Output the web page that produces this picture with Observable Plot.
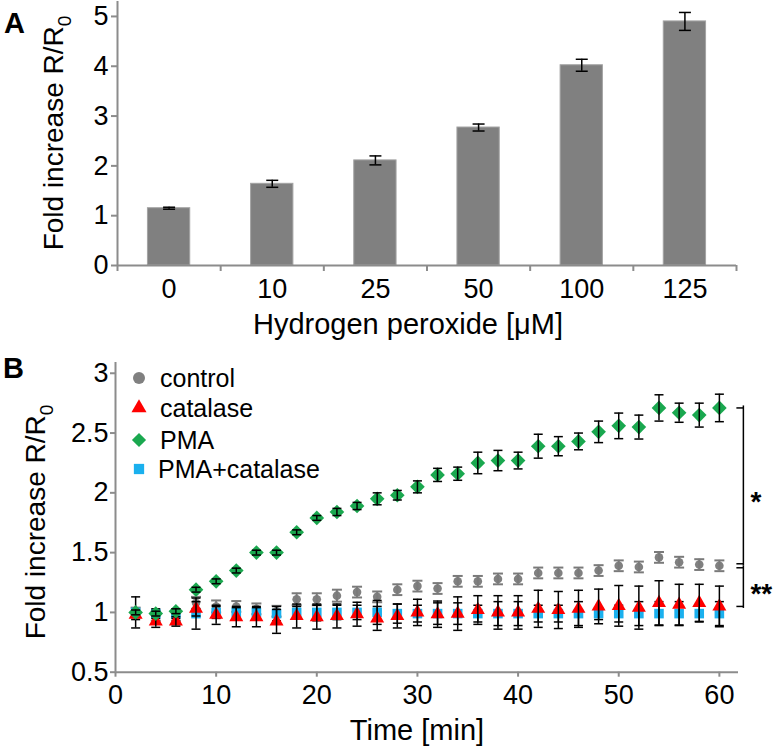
<!DOCTYPE html>
<html>
<head>
<meta charset="utf-8">
<script src="https://cdn.jsdelivr.net/npm/d3@7"></script>
<script src="https://cdn.jsdelivr.net/npm/@observablehq/plot@0.6"></script>
<style>
  html, body { margin: 0; padding: 0; background: white; }
  #chart svg { display: block; }
</style>
</head>
<body>
<div id="chart"></div>
<script>
// ---------- Panel A data ----------
const concentrations = ["0", "10", "25", "50", "100", "125"];
const foldIncrease = [1.15, 1.64, 2.11, 2.77, 4.02, 4.90];
const foldError = [0.02, 0.07, 0.09, 0.07, 0.12, 0.18];
const yTicksA = [0, 1, 2, 3, 4, 5];

// ---------- Panel B data ----------
const timeMin = [2, 4, 6, 8, 10, 12, 14, 16, 18, 20, 22, 24, 26, 28, 30, 32, 34, 36, 38, 40, 42, 44, 46, 48, 50, 52, 54, 56, 58, 60];
const control = [1.00, 0.97, 0.97, 1.08, 1.05, 1.05, 1.03, 1.01, 1.11, 1.11, 1.14, 1.17, 1.13, 1.19, 1.22, 1.20, 1.26, 1.26, 1.28, 1.28, 1.33, 1.33, 1.33, 1.35, 1.39, 1.38, 1.46, 1.42, 1.40, 1.39];
const controlErr = [0.04, 0.04, 0.04, 0.05, 0.05, 0.045, 0.045, 0.045, 0.05, 0.05, 0.05, 0.045, 0.045, 0.045, 0.045, 0.045, 0.045, 0.045, 0.045, 0.045, 0.045, 0.045, 0.045, 0.045, 0.045, 0.045, 0.045, 0.045, 0.045, 0.045];
const catalase = [0.98, 0.925, 0.925, 1.03, 0.98, 0.96, 0.96, 0.925, 0.97, 0.96, 0.97, 0.985, 0.95, 0.97, 1.00, 0.985, 0.99, 1.02, 1.00, 1.00, 1.03, 1.02, 1.03, 1.05, 1.055, 1.04, 1.08, 1.065, 1.08, 1.05];
const catalaseErr = [0.04, 0.05, 0.04, 0.06, 0.08, 0.08, 0.08, 0.10, 0.10, 0.10, 0.10, 0.10, 0.10, 0.10, 0.11, 0.11, 0.14, 0.12, 0.14, 0.14, 0.155, 0.155, 0.155, 0.145, 0.17, 0.18, 0.185, 0.17, 0.155, 0.17];
const pma = [1.00, 0.99, 1.01, 1.19, 1.26, 1.35, 1.50, 1.50, 1.67, 1.79, 1.84, 1.89, 1.95, 1.98, 2.05, 2.15, 2.16, 2.25, 2.27, 2.27, 2.39, 2.39, 2.43, 2.51, 2.56, 2.55, 2.71, 2.67, 2.65, 2.71];
const pmaErr = [0.02, 0.02, 0.02, 0.02, 0.02, 0.02, 0.02, 0.02, 0.02, 0.02, 0.03, 0.03, 0.05, 0.04, 0.05, 0.055, 0.055, 0.09, 0.085, 0.07, 0.10, 0.08, 0.07, 0.09, 0.107, 0.10, 0.11, 0.08, 0.10, 0.115];
const pmaCatalase = [1.00, 0.99, 0.99, 0.99, 1.00, 1.00, 1.00, 0.99, 1.00, 1.00, 1.00, 1.00, 1.00, 0.99, 0.99, 0.99, 0.99, 0.99, 0.99, 0.99, 0.99, 0.99, 0.99, 0.99, 0.99, 0.99, 0.99, 0.99, 0.99, 0.99];
const pmaCatalaseErr = [0.13, 0.04, 0.04, 0.13, 0.05, 0.05, 0.05, 0.06, 0.05, 0.07, 0.06, 0.06, 0.10, 0.08, 0.07, 0.09, 0.09, 0.07, 0.10, 0.10, 0.07, 0.07, 0.10, 0.05, 0.07, 0.10, 0.10, 0.10, 0.07, 0.10];
const seriesNames = ["control", "catalase", "PMA", "PMA+catalase"];
const xTicksB = [0, 10, 20, 30, 40, 50, 60];
const yTicksB = [0.5, 1, 1.5, 2, 2.5, 3];
const significance = ["*", "**"];

// ---------- styles ----------
const FONT = "'Liberation Sans', Arial, Helvetica, sans-serif";
const AXIS = "#8c8c8c";
const colors = {control: "#808080", catalase: "#ff0000", PMA: "#1aa84f", "PMA+catalase": "#1ab0ee"};
const symbols = {control: "circle", catalase: "triangle", PMA: "diamond2", "PMA+catalase": "square"};
const radii = {control: 4.3, catalase: 5.2, PMA: 6.6, "PMA+catalase": 5.4};

const capSymbol = {draw(ctx, size) { const w = Math.sqrt(size / Math.PI); ctx.moveTo(-w, 0); ctx.lineTo(w, 0); }};
const hookSymbol = {draw(ctx, size) { const w = Math.sqrt(size / Math.PI); ctx.moveTo(-w, 0); ctx.lineTo(0, 0); }};

function errorMarks(data, opts = {}) {
  const stroke = opts.stroke || "black";
  const r = opts.r || 5;
  const w = opts.strokeWidth || 1.5;
  return [
    Plot.ruleX(data, {x: "x", y1: d => d.v - d.e, y2: d => d.v + d.e, stroke, strokeWidth: w}),
    Plot.dot(data, {x: "x", y: d => d.v + d.e, symbol: capSymbol, r, fill: "none", stroke, strokeWidth: w}),
    Plot.dot(data, {x: "x", y: d => d.v - d.e, symbol: capSymbol, r, fill: "none", stroke, strokeWidth: w})
  ];
}

function yLabel(svg, x, y, size) {
  const t = d3.select(svg).append("text")
    .attr("transform", `translate(${x},${y}) rotate(-90)`)
    .attr("text-anchor", "middle")
    .attr("font-family", FONT)
    .attr("font-size", size)
    .attr("fill", "black");
  t.append("tspan").text("Fold increase R/R");
  t.append("tspan").attr("font-size", size * 0.68).attr("dy", 8).text("0");
}

function panelLetter(svg, letter, x, y) {
  d3.select(svg).append("text").attr("x", x).attr("y", y)
    .attr("text-anchor", "start")
    .attr("font-family", FONT).attr("font-size", 29).attr("font-weight", "bold")
    .attr("fill", "black").text(letter);
}

// ---------- Panel A ----------
const dataA = concentrations.map((c, i) => ({i, c, x: i + 0.5, v: foldIncrease[i], e: foldError[i]}));
const nA = concentrations.length;
const yMaxA = 5.3;

const plotA = Plot.plot({
  width: 775, height: 350,
  marginLeft: 117, marginRight: 39, marginTop: 1, marginBottom: 85,
  style: {fontFamily: FONT, color: "black", background: "white", overflow: "visible"},
  x: {domain: [0, nA]},
  y: {domain: [0, yMaxA]},
  marks: [
    Plot.rectY(dataA, {x1: d => d.x - 0.205, x2: d => d.x + 0.205, y1: 0, y2: "v", fill: "#808080", stroke: "#a3a3a3", strokeWidth: 1}),
    ...errorMarks(dataA, {r: 6}),
    Plot.ruleY([0], {stroke: AXIS, strokeWidth: 2}),
    Plot.ruleX([0], {y1: 0, y2: yMaxA, stroke: AXIS, strokeWidth: 2}),
    Plot.axisY({ticks: yTicksA, tickSize: 6, tickPadding: 3, fontSize: 27, stroke: AXIS, strokeWidth: 2, fill: "black", tickFormat: d => String(d), label: null}),
    Plot.axisX({ticks: d3.range(nA + 1), tickSize: 6, tickFormat: () => "", stroke: AXIS, strokeWidth: 2, label: null}),
    Plot.axisX({ticks: dataA.map(d => d.x), tickSize: 0, tickPadding: 13, fontSize: 27, fill: "black", tickFormat: d => concentrations[Math.floor(d)], label: null}),
    Plot.text(["Hydrogen peroxide [\u03bcM]"], {frameAnchor: "bottom", lineAnchor: "bottom", dy: 68, dx: -19, fontSize: 29, fill: "black", text: d => d})
  ]
});
yLabel(plotA, 63, 133, 28);
panelLetter(plotA, "A", 4, 33);

// ---------- Panel B ----------
const seriesValues = [control, catalase, pma, pmaCatalase];
const seriesErrors = [controlErr, catalaseErr, pmaErr, pmaCatalaseErr];
const seriesData = {};
seriesNames.forEach((name, k) => {
  seriesData[name] = timeMin.map((t, i) => ({x: t, v: seriesValues[k][i], e: seriesErrors[k][i], series: name}));
});

const last = timeMin.length - 1;
const lastT = timeMin[last];
const brackets = [
  {label: significance[0], y1: control[last], y2: pma[last]},
  {label: significance[1], y1: catalase[last], y2: control[last]}
];
const xMaxB = 61.9;
const yMinB = 0.5, yMaxB = 3.09;

function seriesMarks(name, errStroke, errOpts = {}) {
  const data = seriesData[name];
  return [
    Plot.dot(data, {x: "x", y: "v", symbol: symbols[name], r: radii[name], fill: colors[name], stroke: "none"}),
    ...errorMarks(data, {stroke: errStroke, r: 4.5, ...errOpts})
  ];
}

const plotB = Plot.plot({
  width: 775, height: 401,
  marginLeft: 115, marginRight: 37, marginTop: 12, marginBottom: 79.3,
  style: {fontFamily: FONT, color: "black", background: "white", overflow: "visible"},
  x: {domain: [0, xMaxB]},
  y: {domain: [yMinB, yMaxB]},
  marks: [
    ...seriesMarks("control", "#7a7a7a", {r: 5, strokeWidth: 2}),
    ...seriesMarks("PMA+catalase", "black"),
    ...seriesMarks("catalase", "black"),
    ...seriesMarks("PMA", "black"),
    // significance brackets
    Plot.ruleX([brackets[0]], {x: lastT, y1: "y1", y2: "y2", dx: 24, insetBottom: 2, stroke: "black", strokeWidth: 1.5}),
    Plot.ruleX([brackets[1]], {x: lastT, y1: "y1", y2: "y2", dx: 24, insetTop: 2, stroke: "black", strokeWidth: 1.5}),
    Plot.dot([brackets[0]], {x: lastT, y: "y2", dx: 24, symbol: hookSymbol, r: 7, fill: "none", stroke: "black", strokeWidth: 1.5}),
    Plot.dot([brackets[0]], {x: lastT, y: "y1", dx: 24, dy: -2, symbol: hookSymbol, r: 7, fill: "none", stroke: "black", strokeWidth: 1.5}),
    Plot.dot([brackets[1]], {x: lastT, y: "y2", dx: 24, dy: 2, symbol: hookSymbol, r: 7, fill: "none", stroke: "black", strokeWidth: 1.5}),
    Plot.dot([brackets[1]], {x: lastT, y: "y1", dx: 24, symbol: hookSymbol, r: 7, fill: "none", stroke: "black", strokeWidth: 1.5}),
    Plot.text([brackets[0]], {x: lastT, y: d => (d.y1 + d.y2) / 2, text: "label", dx: 31, dy: 15, textAnchor: "start", fontSize: 28, fontWeight: "bold", fill: "black"}),
    Plot.text([brackets[1]], {x: lastT, y: d => (d.y1 + d.y2) / 2, text: "label", dx: 31, dy: 8, textAnchor: "start", fontSize: 28, fontWeight: "bold", fill: "black"}),
    // axes
    Plot.ruleY([yMinB], {x1: 0, x2: xMaxB, stroke: AXIS, strokeWidth: 2}),
    Plot.ruleX([0], {y1: yMinB, y2: yMaxB, stroke: AXIS, strokeWidth: 2}),
    Plot.axisY({ticks: yTicksB, tickSize: 5, tickPadding: 2, fontSize: 27, stroke: AXIS, strokeWidth: 2, fill: "black", tickFormat: d => String(d), label: null}),
    Plot.axisX({ticks: xTicksB, tickSize: 5, tickPadding: 8, fontSize: 27, stroke: AXIS, strokeWidth: 2, fill: "black", tickFormat: d => String(d), label: null}),
    Plot.text(["Time [min]"], {frameAnchor: "bottom", lineAnchor: "bottom", dy: 68, dx: -10, fontSize: 29, fill: "black", text: d => d})
  ]
});
yLabel(plotB, 45, 172, 28);
panelLetter(plotB, "B", 3, 28);

// legend (panel B)
const legend = d3.select(plotB).append("g")
  .attr("font-family", FONT).attr("font-size", 25).attr("text-anchor", "start");
const legendSymbols = {circle: d3.symbolCircle, triangle: d3.symbolTriangle, diamond2: d3.symbolDiamond2, square: d3.symbolSquare};
const legendRadius = {control: 6, catalase: 5.6, PMA: 6.4, "PMA+catalase": 5.8};
seriesNames.forEach((name, k) => {
  const cy = [28, 58, 90, 119][k];
  legend.append("path")
    .attr("transform", `translate(139,${cy})`)
    .attr("d", d3.symbol(legendSymbols[symbols[name]], Math.PI * legendRadius[name] ** 2)())
    .attr("fill", colors[name]);
  legend.append("text").attr("x", k === 3 ? 158 : 160).attr("y", cy + 9)
    .attr("text-anchor", "start").attr("fill", "black").text(name);
});

document.getElementById("chart").append(plotA, plotB);
</script>
</body>
</html>
